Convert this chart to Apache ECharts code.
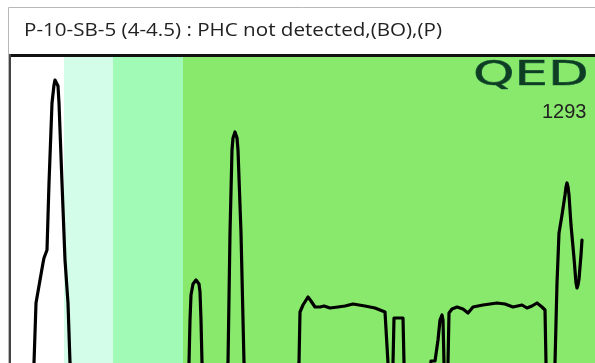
<!DOCTYPE html>
<html>
<head>
<meta charset="utf-8">
<script src="https://cdn.jsdelivr.net/npm/echarts@6/dist/echarts.min.js"></script>
<style>
html,body{margin:0;padding:0;background:#fff;}
#chart{width:595px;height:363px;}
</style>
</head>
<body>
<div id="chart"></div>
<script>
// Retention time (min) and detector signal
var times = [0.20,0.48,0.52,0.66,0.68,0.74,0.78,0.84,0.88,0.90,0.92,0.94,0.96,0.98,1.04,1.10,1.16,1.20,1.26,
  3.50,3.58,3.60,3.62,3.66,3.72,3.78,3.80,3.82,3.84,3.90,
  4.30,4.36,4.40,4.44,4.46,4.50,4.54,4.56,4.62,4.68,4.74,
  5.72,5.78,5.80,5.86,5.96,6.02,6.10,6.20,6.28,6.32,6.40,6.56,6.70,6.86,7.10,7.30,7.50,7.54,7.56,7.58,
  7.64,7.66,7.68,7.86,7.88,7.90,
  8.36,8.42,8.50,8.56,8.60,8.64,8.66,8.68,8.72,8.76,8.78,8.84,8.94,9.06,9.16,9.26,9.46,9.74,9.90,10.06,10.24,10.34,10.44,10.54,10.64,10.70,10.72,10.76,
  10.86,10.90,10.94,10.98,11.04,11.10,11.12,11.14,11.16,11.18,11.22,11.28,11.32,11.34,11.36,11.38,11.42,11.44];
var signal = [-37,0,60,100,105,113,180,260,278,283,285,283,277,260,180,103,60,0,-37,
  -37,0,43,68,79,83,79,71,43,0,-37,
  -37,0,130,213,225,231,225,213,130,0,-37,
  -37,0,51,58,66,62,56,56,57,58,55,56,57,59,57,55,51,50,0,-37,
  -37,0,45,45,0,-37,
  -37,2,2,23,43,48,43,0,-17,0,50,54,56,54,50,56,58,60,59,56,58,55,57,60,56,53,0,-37,
  -37,0,80,130,148,168,176,180,176,168,138,105,80,75,78,84,108,123];
// Hydrocarbon range bands (retention time boundaries)
var bandEdges = [0, 1.08, 2.06, 3.46, 11.7];
var titleText = 'P-10-SB-5 (4-4.5) : PHC not detected,(BO),(P)';
var logoText = 'QED';
var sampleId = '1293';

var bandColors = ['#ffffff', '#d3fde8', '#a1fab5', '#89e96c'];
var seriesData = times.map(function (t, i) { return [t, signal[i]]; });
var areas = [];
for (var i = 0; i < bandEdges.length - 1; i++) {
  areas.push([{ xAxis: bandEdges[i], itemStyle: { color: bandColors[i] } }, { xAxis: bandEdges[i + 1] }]);
}

var chart = echarts.init(document.getElementById('chart'), null, { renderer: 'canvas' });
chart.setOption({
  animation: false,
  backgroundColor: '#ffffff',
  grid: { left: 10, right: 0, top: 57, bottom: 0, show: false },
  xAxis: { type: 'value', min: 0, max: 11.7, show: false },
  yAxis: { type: 'value', min: 0, max: 306, show: false },
  series: [{
    type: 'line',
    data: seriesData,
    showSymbol: false,
    clip: true,
    lineStyle: { color: '#000', width: 3.2, join: 'round', cap: 'round' },
    z: 5,
    markArea: { silent: true, data: areas, itemStyle: { opacity: 1 } }
  }],
  graphic: [
    { type: 'rect', z: -10, shape: { x: 8.5, y: 7.5, width: 700, height: 500 },
      style: { fill: 'none', stroke: '#b8b8b8', lineWidth: 1 } },
    { type: 'text', x: 24, y: 31, z: 10, scaleX: 1.03, scaleY: 0.92,
      style: { text: titleText, font: '20px "Open Sans"', fill: '#222', verticalAlign: 'middle' } },
    { type: 'line', z: 20, shape: { x1: 10, y1: 55.5, x2: 595, y2: 55.5 },
      style: { stroke: '#111', lineWidth: 3 } },
    { type: 'line', z: 20, shape: { x1: 10, y1: 54, x2: 10, y2: 363 },
      style: { stroke: '#444', lineWidth: 2 } },
    { type: 'text', x: 473, y: 60, z: 10, scaleX: 1.6, scaleY: 1,
      style: { text: logoText, font: '33px "DejaVu Sans"', fill: '#0f3d24', stroke: '#1b6b45', lineWidth: 0.6 } },
    { type: 'text', x: 542, y: 102, z: 10,
      style: { text: sampleId, font: '20px "Liberation Sans"', fill: '#222' } }
  ]
});
</script>
</body>
</html>
